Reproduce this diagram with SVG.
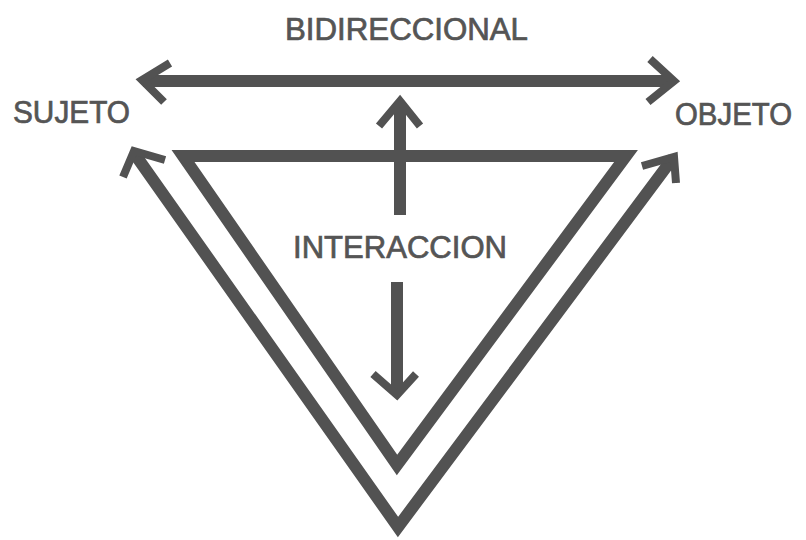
<svg xmlns="http://www.w3.org/2000/svg" width="806" height="540" viewBox="0 0 806 540">
<style>
.ln{fill:none;stroke:#525252;stroke-width:12;stroke-linejoin:miter}
.hd{fill:none;stroke:#525252;stroke-width:8;stroke-linecap:butt;stroke-linejoin:miter}
.t{font-family:"Liberation Sans",Arial,sans-serif;fill:#555;stroke:#555;stroke-width:0.7;font-size:30.5px}
</style>
<rect width="806" height="540" fill="#fff"/>
<g id="labels">
<text id="bidireccional" class="t" x="285" y="40" textLength="243" lengthAdjust="spacingAndGlyphs">BIDIRECCIONAL</text>
<text id="sujeto" class="t" x="13" y="123" textLength="117" lengthAdjust="spacingAndGlyphs">SUJETO</text>
<text id="objeto" class="t" x="675" y="125" textLength="117" lengthAdjust="spacingAndGlyphs">OBJETO</text>
<text id="interaccion" class="t" x="293" y="258" textLength="214" lengthAdjust="spacingAndGlyphs">INTERACCION</text>
</g>
<g id="connectors">
<g id="bidir-arrow">
<line class="ln" stroke-width="11" x1="143" y1="81" x2="672" y2="81"/>
<polyline class="hd" points="170,63 142,80 164,102"/>
<polyline class="hd" points="650,59 674,81 648,102"/>
</g>
<g id="inner-triangle">
<polygon class="ln" stroke-width="12" points="183,156 626,156 397,465"/>
</g>
<g id="outer-v">
<polyline class="ln" stroke-width="13" points="134,153 398,527 673,158"/>
<polyline class="hd" points="165,160 134,151 123,177"/>
<polyline class="hd" points="642,166 674,157 676,183"/>
</g>
<g id="up-arrow">
<line class="ln" stroke-width="10" x1="400" y1="215" x2="400" y2="103"/>
<polyline class="hd" points="379,126 400,101 420,126"/>
</g>
<g id="down-arrow">
<line class="ln" stroke-width="11" x1="397" y1="282" x2="397" y2="393"/>
<polyline class="hd" points="373,374 397,395 416,374"/>
</g>
</g>
</svg>
